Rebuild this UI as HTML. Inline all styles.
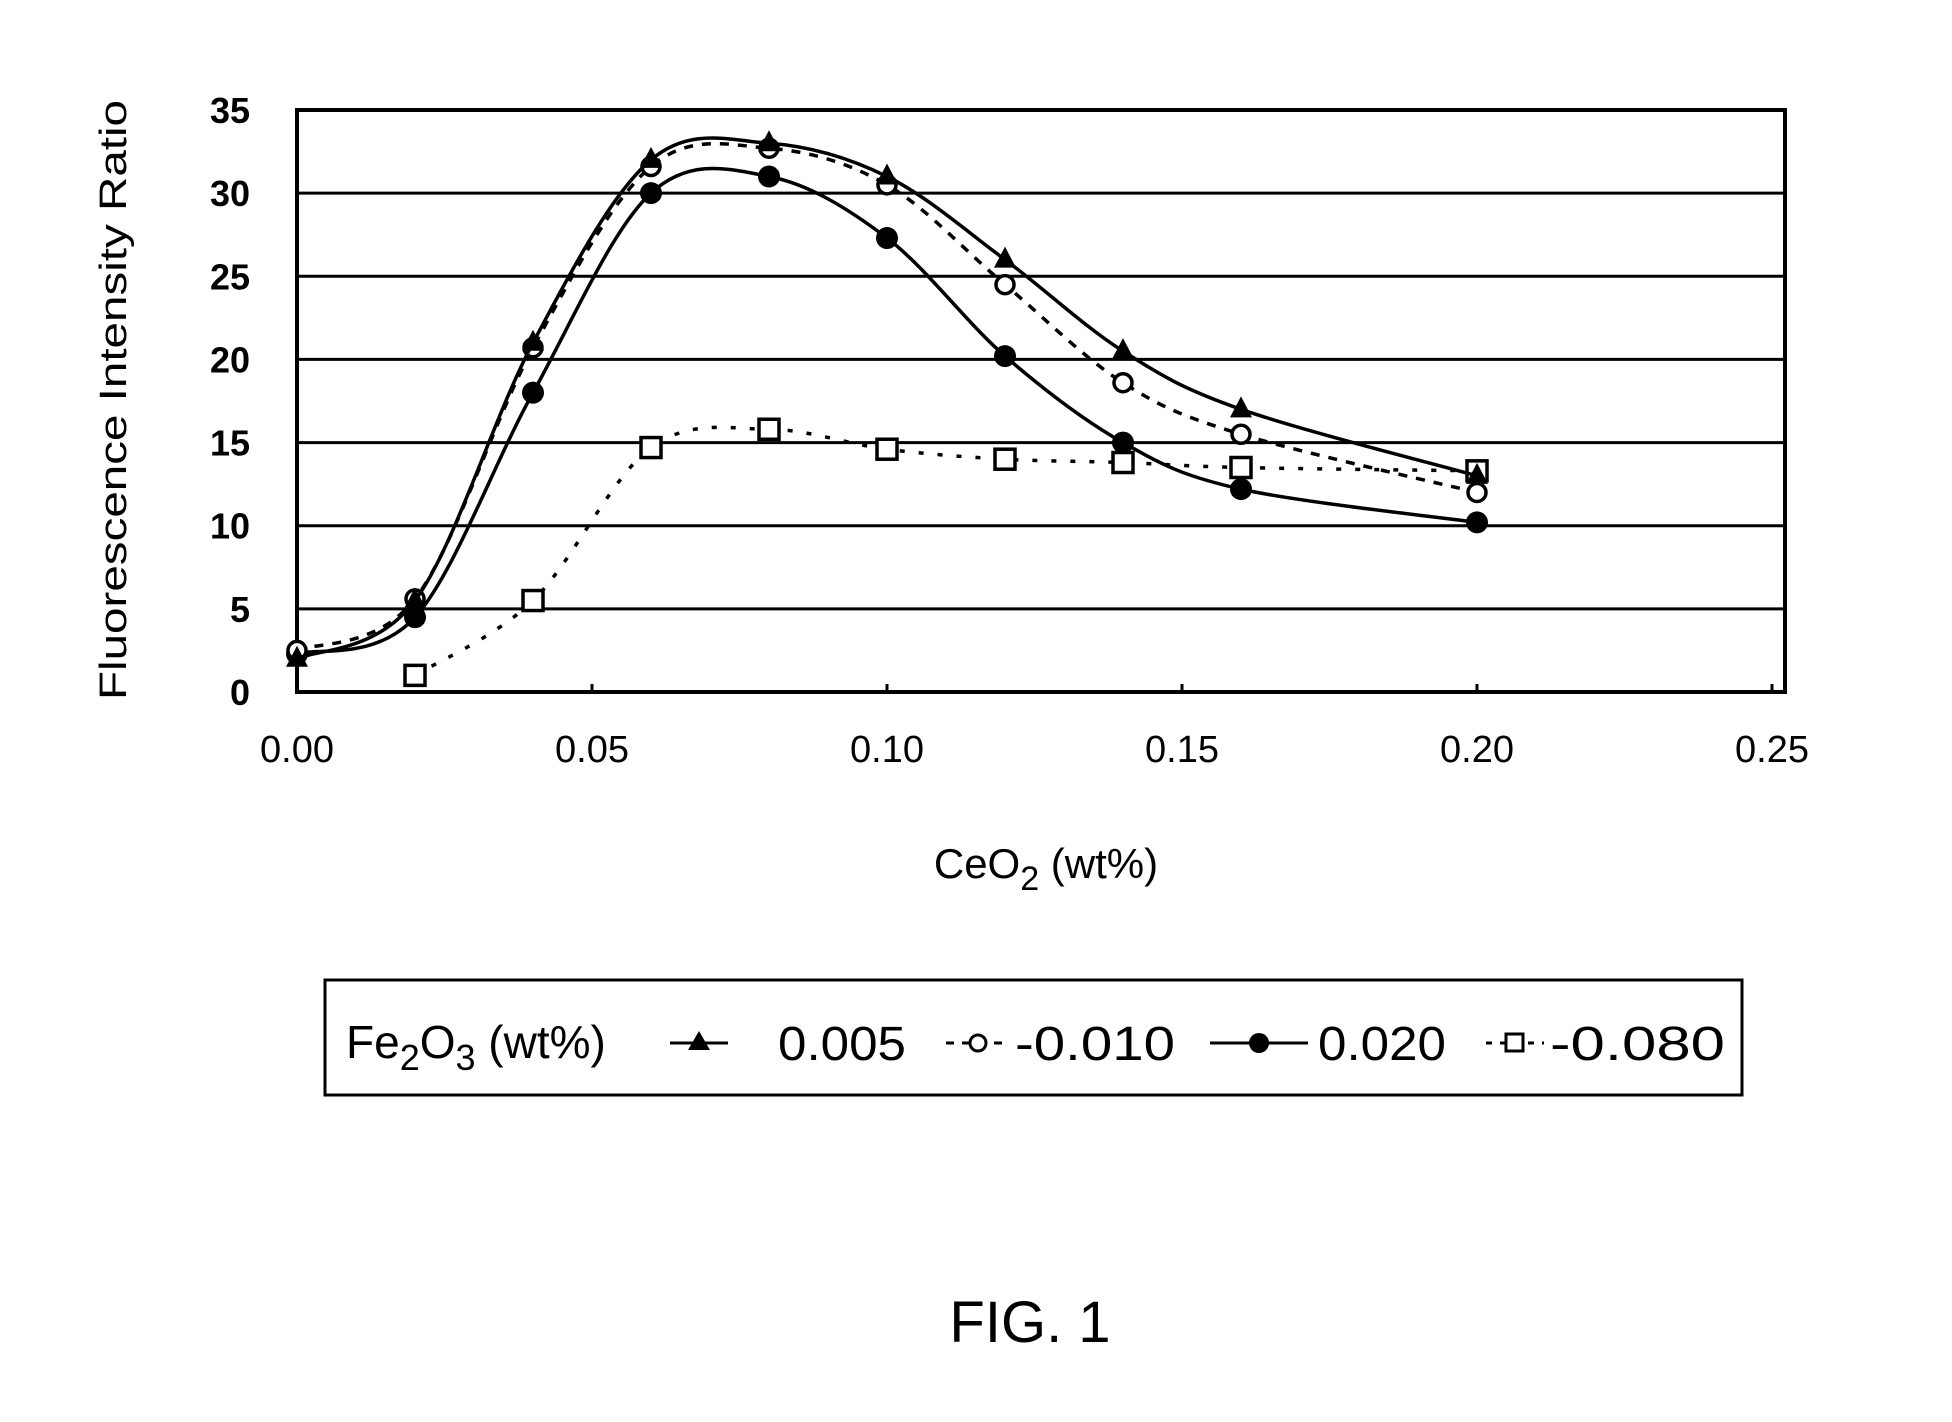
<!DOCTYPE html>
<html><head><meta charset="utf-8"><style>
html,body{margin:0;padding:0;background:#fff;}
svg{display:block;font-family:"Liberation Sans",sans-serif;}
</style></head><body>
<svg id="chart" width="1952" height="1422" viewBox="0 0 1952 1422" xmlns="http://www.w3.org/2000/svg">
<g id="grid"></g>
<g id="axes"></g>
<g id="series"></g>
<text transform="translate(126,400) rotate(-90)" text-anchor="middle" font-size="38" textLength="600" lengthAdjust="spacingAndGlyphs">Fluorescence Intensity Ratio</text>
<text x="1046" y="878" text-anchor="middle" font-size="42">CeO<tspan font-size="34" dy="12">2</tspan><tspan dy="-12"> (wt%)</tspan></text>
<g>
<rect x="325" y="980" width="1417" height="115" fill="none" stroke="#000" stroke-width="3"/>
<text x="346" y="1058" font-size="46">Fe<tspan font-size="36" dy="12">2</tspan><tspan dy="-12">O</tspan><tspan font-size="36" dy="12">3</tspan><tspan dy="-12"> (wt%)</tspan></text>
<g>
<line x1="670" y1="1043" x2="728" y2="1043" stroke="#000" stroke-width="3"/>
<polygon points="699,1031 710,1050 688,1050" fill="#000"/>
<text x="778" y="1060" font-size="48" textLength="128" lengthAdjust="spacingAndGlyphs">0.005</text></g>
<g>
<line x1="946" y1="1043" x2="1009" y2="1043" stroke="#000" stroke-width="3" stroke-dasharray="8,8"/>
<circle cx="978" cy="1043" r="8" fill="#fff" stroke="#000" stroke-width="3"/>
<text x="1015" y="1060" font-size="48" textLength="160" lengthAdjust="spacingAndGlyphs">-0.010</text></g>
<g>
<line x1="1210" y1="1043" x2="1308" y2="1043" stroke="#000" stroke-width="3"/>
<circle cx="1259" cy="1043" r="10" fill="#000"/>
<text x="1318" y="1060" font-size="48" textLength="128" lengthAdjust="spacingAndGlyphs">0.020</text></g>
<g>
<line x1="1486" y1="1043" x2="1544" y2="1043" stroke="#000" stroke-width="3" stroke-dasharray="6,8"/>
<rect x="1506" y="1034" width="17" height="17" fill="#fff" stroke="#000" stroke-width="3"/>
<text x="1550" y="1060" font-size="48" textLength="175" lengthAdjust="spacingAndGlyphs">-0.080</text></g>
</g>
<text x="1030" y="1342" text-anchor="middle" font-size="58">FIG.  1</text>
</svg>
<script>
const xTicks = [0, 0.05, 0.10, 0.15, 0.20, 0.25];
const xTickLabels = ["0.00","0.05","0.10","0.15","0.20","0.25"];
const yTicks = [0,5,10,15,20,25,30,35];
const yTickLabels = ["0","5","10","15","20","25","30","35"];
const ceo2 = [0, 0.02, 0.04, 0.06, 0.08, 0.10, 0.12, 0.14, 0.16, 0.20];
const s005 = [2.0, 5.5, 21, 32, 33, 31, 26, 20.5, 17, 13];
const s010 = [2.5, 5.6, 20.7, 31.6, 32.7, 30.5, 24.5, 18.6, 15.5, 12];
const s020 = [2.3, 4.5, 18, 30, 31, 27.3, 20.2, 15, 12.2, 10.2];
const ceo2_080 = [0.02, 0.04, 0.06, 0.08, 0.10, 0.12, 0.14, 0.16, 0.20];
const s080 = [1.0, 5.5, 14.7, 15.8, 14.6, 14.0, 13.8, 13.5, 13.3];

const X0=297, X1=1785, Y0=692, Y1=110;
const xScale = v => X0 + (v/0.25)*(1772-X0);
const yScale = v => Y0 - (v/35)*(Y0-Y1);
const NS="http://www.w3.org/2000/svg";
function mk(tag, attrs, parent){const e=document.createElementNS(NS,tag);for(const k in attrs)e.setAttribute(k,attrs[k]);parent.appendChild(e);return e;}
const grid=document.getElementById('grid'), axes=document.getElementById('axes'), series=document.getElementById('series');

yTicks.forEach((t,i)=>{
  if(t>0){const l=mk('line',{x1:X0,x2:X1,y1:yScale(t),y2:yScale(t),stroke:'#000','stroke-width':3},grid);
  
  }
  const tx=mk('text',{x:250,y:yScale(t)+13,'text-anchor':'end','font-size':36,'font-weight':'bold'},axes);
  tx.textContent=yTickLabels[i];
  
  
});
xTicks.forEach((t,i)=>{
  const tk=mk('line',{x1:xScale(t),x2:xScale(t),y1:Y0,y2:Y0-8,stroke:'#000','stroke-width':3},axes);
  
  
  const tx=mk('text',{x:xScale(t),y:762,'text-anchor':'middle','font-size':38},axes);
  tx.textContent=xTickLabels[i];
  
  
});
const frame=mk('rect',{x:X0,y:Y1,width:X1-X0,height:Y0-Y1,fill:'none',stroke:'#000','stroke-width':4},axes);



function spline(xs,ys){
  const p=xs.map((x,i)=>[xScale(x),yScale(ys[i])]);
  let d='M'+p[0][0]+','+p[0][1];
  for(let i=0;i<p.length-1;i++){
    const a=p[i-1]||p[i], b=p[i], c=p[i+1], e=p[i+2]||c;
    const c1=[b[0]+(c[0]-a[0])/6, b[1]+(c[1]-a[1])/6];
    const c2=[c[0]-(e[0]-b[0])/6, c[1]-(e[1]-b[1])/6];
    d+=' C'+c1+' '+c2+' '+c;
  }
  return d;
}
function drawSeries(name, xs, ys, dash, marker){
  const g=mk('g',{},series);
  
  
  const p=mk('path',{d:spline(xs,ys),fill:'none',stroke:'#000','stroke-width':3.5},g);
  if(dash)p.setAttribute('stroke-dasharray',dash);
  
  
  xs.forEach((x,i)=>{
    const cx=xScale(x), cy=yScale(ys[i]); let m;
    if(marker==='tri') m=mk('polygon',{points:`${cx},${cy-13} ${cx+11},${cy+8} ${cx-11},${cy+8}`,fill:'#000'},g);
    else if(marker==='circle') m=mk('circle',{cx,cy,r:9,fill:'#fff',stroke:'#000','stroke-width':3.5},g);
    else if(marker==='dot') m=mk('circle',{cx,cy,r:11,fill:'#000'},g);
    else m=mk('rect',{x:cx-10,y:cy-10,width:20,height:20,fill:'#fff',stroke:'#000','stroke-width':3.5},g);
    
    
  });
}
drawSeries('0.080', ceo2_080, s080, '5,14', 'square');
drawSeries('0.020', ceo2, s020, null, 'dot');
drawSeries('0.010', ceo2, s010, '9,9', 'circle');
drawSeries('0.005', ceo2, s005, null, 'tri');
</script>
</body></html>
